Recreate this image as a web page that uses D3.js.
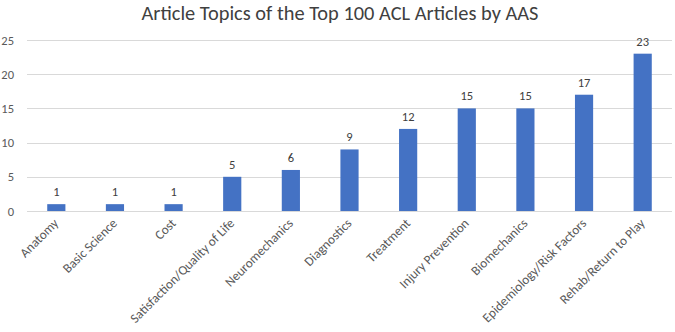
<!DOCTYPE html>
<html>
<head>
<meta charset="utf-8">
<script src="https://cdn.jsdelivr.net/npm/d3@7"></script>
<style>
  body { margin: 0; background: #fff; }
  svg { display: block; font-family: Calibri, Carlito, "Open Sans", sans-serif; }
</style>
</head>
<body>
<div id="chart"></div>
<script>
// Data
const categories = [
    'Anatomy', 'Basic Science', 'Cost', 'Satisfaction/Quality of Life', 'Neuromechanics',
    'Diagnostics', 'Treatment', 'Injury Prevention', 'Biomechanics',
    'Epidemiology/Risk Factors', 'Rehab/Return to Play'
];
const counts = [1, 1, 1, 5, 6, 9, 12, 15, 15, 17, 23];
const yTicks = [0, 5, 10, 15, 20, 25];
const title = 'Article Topics of the Top 100 ACL Articles by AAS';

const width = 675, height = 332;
const margin = { top: 40, right: 3, bottom: 121, left: 27 };
const textColor = '#595959';
const barColor = '#4472C4';
const fontFamily = 'Calibri, Carlito, "Open Sans", sans-serif';

const svg = d3.select('#chart').append('svg').attr('width', width).attr('height', height);

const x = d3.scaleBand()
    .domain(categories)
    .range([margin.left, width - margin.right])
    .paddingInner(0.69)
    .paddingOuter(0.345);

const y = d3.scaleLinear().domain([0, 25]).range([height - margin.bottom, margin.top]);

// Title
svg.append('text')
    .attr('x', 340).attr('y', 20)
    .attr('text-anchor', 'middle')
    .attr('fill', '#404040')
    .attr('font-size', 20.4)
    .text(title);

// Gridlines
svg.append('g')
    .selectAll('line')
    .data(yTicks)
    .join('line')
    .attr('x1', margin.left).attr('x2', width - margin.right)
    .attr('y1', d => Math.round(y(d)) + 0.5).attr('y2', d => Math.round(y(d)) + 0.5)
    .attr('stroke', '#d9d9d9').attr('stroke-width', 1);

// Y axis labels
const yAxis = svg.append('g')
    .attr('transform', `translate(${margin.left},0)`)
    .call(d3.axisLeft(y).tickValues(yTicks).tickSize(0).tickPadding(13));
yAxis.select('.domain').remove();
yAxis.selectAll('text').attr('fill', textColor).attr('font-size', 12.5)
    .style('font-family', fontFamily);

// Bars
svg.append('g')
    .selectAll('rect')
    .data(categories)
    .join('rect')
    .attr('x', d => x(d))
    .attr('width', x.bandwidth())
    .attr('y', (d, i) => y(counts[i]))
    .attr('height', (d, i) => y(0) - y(counts[i]))
    .attr('fill', barColor);

// Value labels
svg.append('g')
    .selectAll('text')
    .data(categories)
    .join('text')
    .attr('x', d => x(d) + x.bandwidth() / 2)
    .attr('y', (d, i) => y(counts[i]) - 8)
    .attr('text-anchor', 'middle')
    .attr('fill', '#404040')
    .attr('font-size', 12.5)
    .text((d, i) => counts[i]);

// X axis category labels
const xAxis = svg.append('g')
    .attr('transform', `translate(0,${y(0)})`)
    .call(d3.axisBottom(x).tickSize(0).tickPadding(0));
xAxis.select('.domain').remove();
xAxis.selectAll('text')
    .attr('fill', textColor)
    .attr('font-size', 13.2)
    .style('font-family', fontFamily)
    .attr('text-anchor', 'end')
    .attr('dy', null)
    .attr('transform', 'translate(3,13) rotate(-45)');
</script>
</body>
</html>
